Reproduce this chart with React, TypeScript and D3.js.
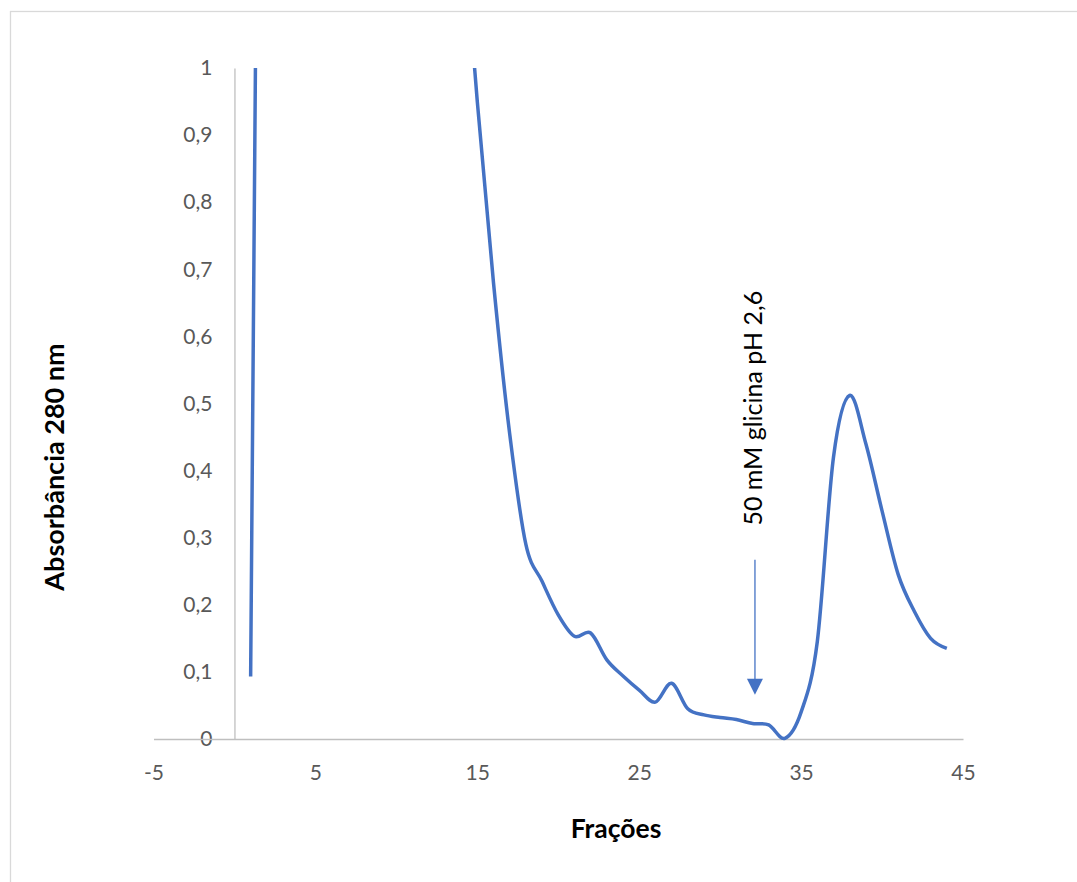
import React, { useEffect, useRef } from 'react';
import * as d3 from 'd3';

// fractions collected and their absorbance at 280 nm (values > 1 fall off the chart)
const fractions = [
  1, 2, 3, 4, 5, 6, 7, 8, 9, 10, 11, 12, 13, 14, 15, 16, 17, 18, 19, 20, 21, 22,
  23, 24, 25, 26, 27, 28, 29, 30, 31, 32, 33, 34, 35, 36, 37, 38, 39, 40, 41, 42, 43, 44,
];
const absorbance = [
  0.093, 2.8, 3.1, 3.0, 2.9, 2.8, 2.7, 2.6, 2.4, 2.2, 2.0, 1.8, 1.55, 1.25, 0.95, 0.68,
  0.455, 0.29, 0.235, 0.185, 0.153, 0.158, 0.118, 0.094, 0.073, 0.055, 0.083, 0.045,
  0.036, 0.032, 0.029, 0.023, 0.021, 0.001, 0.04, 0.145, 0.42, 0.512, 0.44, 0.34,
  0.245, 0.19, 0.15, 0.135,
];

const xTicks = [-5, 5, 15, 25, 35, 45];
const yTicks = [0, 0.1, 0.2, 0.3, 0.4, 0.5, 0.6, 0.7, 0.8, 0.9, 1];

// elution marker (data units)
const elutionLabel = '50 mM glicina pH 2,6';
const elutionX = 32.15;
const elutionArrowTop = 0.267;
const elutionArrowTip = 0.066;
const elutionTextStart = 0.318;

const xTitle = 'Frações';
const yTitle = 'Absorbância 280 nm';

const App = () => {
  const svgRef = useRef<SVGSVGElement>(null);

  useEffect(() => {
    const width = 1077;
    const height = 882;
    const font = 'Lato, "Open Sans", sans-serif';
    const blue = '#4472C4';

    const svg = d3.select(svgRef.current);
    svg.selectAll('*').remove();
    svg.attr('width', width).attr('height', height);

    svg.append('rect').attr('width', width).attr('height', height).attr('fill', '#fff');

    // chart frame
    svg.append('rect')
      .attr('x', 10.5).attr('y', 11.5)
      .attr('width', width + 20).attr('height', height + 20)
      .attr('fill', 'none')
      .attr('stroke', '#d9d9d9')
      .attr('stroke-width', 1.3);

    const x = d3.scaleLinear().domain([-5, 45]).range([153.5, 963]);
    const y = d3.scaleLinear().domain([0, 1]).range([739, 68]);

    const ptBR = d3.formatLocale({
      decimal: ',', thousands: '.', grouping: [3], currency: ['', ''], minus: '-',
    });
    const fmtY = ptBR.format('.1~f');
    const fmtX = ptBR.format('d');

    // y axis sits on x = 0
    const yAxis = svg.append('g')
      .attr('transform', `translate(${x(0)},0)`)
      .call(d3.axisLeft(y).tickValues(yTicks).tickSize(0).tickPadding(22).tickFormat((d) => fmtY(d as number)));
    yAxis.select('.domain').attr('stroke', '#bfbfbf').attr('stroke-width', 1.3);

    const xAxis = svg.append('g')
      .attr('transform', `translate(0,${y(0)})`)
      .call(d3.axisBottom(x).tickValues(xTicks).tickSize(0).tickPadding(26).tickFormat((d) => fmtX(d as number)));
    xAxis.select('.domain').attr('stroke', '#bfbfbf').attr('stroke-width', 1.6);

    svg.selectAll('.tick text')
      .attr('font-family', font)
      .attr('font-size', 21)
      .attr('fill', '#595959');

    // clip to plot area
    svg.append('clipPath').attr('id', 'plot-clip')
      .append('rect')
      .attr('x', x(-5)).attr('y', y(1))
      .attr('width', x(45) - x(-5)).attr('height', y(0) - y(1) + 3);

    const pts = fractions.map((f, i) => [f, absorbance[i]] as [number, number]);
    const line = d3.line<[number, number]>()
      .x((d) => x(d[0]))
      .y((d) => y(d[1]))
      .curve(d3.curveCardinal.tension(0));

    svg.append('path')
      .datum(pts)
      .attr('clip-path', 'url(#plot-clip)')
      .attr('fill', 'none')
      .attr('stroke', blue)
      .attr('stroke-width', 3.5)
      .attr('stroke-linejoin', 'round')
      .attr('d', line);

    // arrow annotation
    const ax = x(elutionX);
    svg.append('line')
      .attr('x1', ax).attr('x2', ax)
      .attr('y1', y(elutionArrowTop)).attr('y2', y(elutionArrowTip) - 14)
      .attr('stroke', blue)
      .attr('stroke-width', 1.3);
    const tip = y(elutionArrowTip);
    svg.append('path')
      .attr('d', `M${ax - 8},${tip - 16}L${ax + 8},${tip - 16}L${ax},${tip}Z`)
      .attr('fill', blue);

    svg.append('text')
      .attr('transform', `translate(${x(elutionX) + 7},${y(elutionTextStart)}) rotate(-90)`)
      .attr('font-family', font)
      .attr('font-size', 25)
      .attr('fill', '#000')
      .text(elutionLabel);

    // axis titles
    svg.append('text')
      .attr('x', 616).attr('y', 838)
      .attr('text-anchor', 'middle')
      .attr('font-family', font)
      .attr('font-size', 26.5)
      .attr('font-weight', 'bold')
      .attr('fill', '#000')
      .text(xTitle);

    svg.append('text')
      .attr('transform', `translate(64,467) rotate(-90)`)
      .attr('text-anchor', 'middle')
      .attr('font-family', font)
      .attr('font-size', 27)
      .attr('font-weight', 'bold')
      .attr('fill', '#000')
      .text(yTitle);
  }, []);

  return (
    <div style={{ position: 'fixed', left: 0, top: 0 }}>
      <svg ref={svgRef} style={{ display: 'block' }}></svg>
    </div>
  );
};

export default App;
